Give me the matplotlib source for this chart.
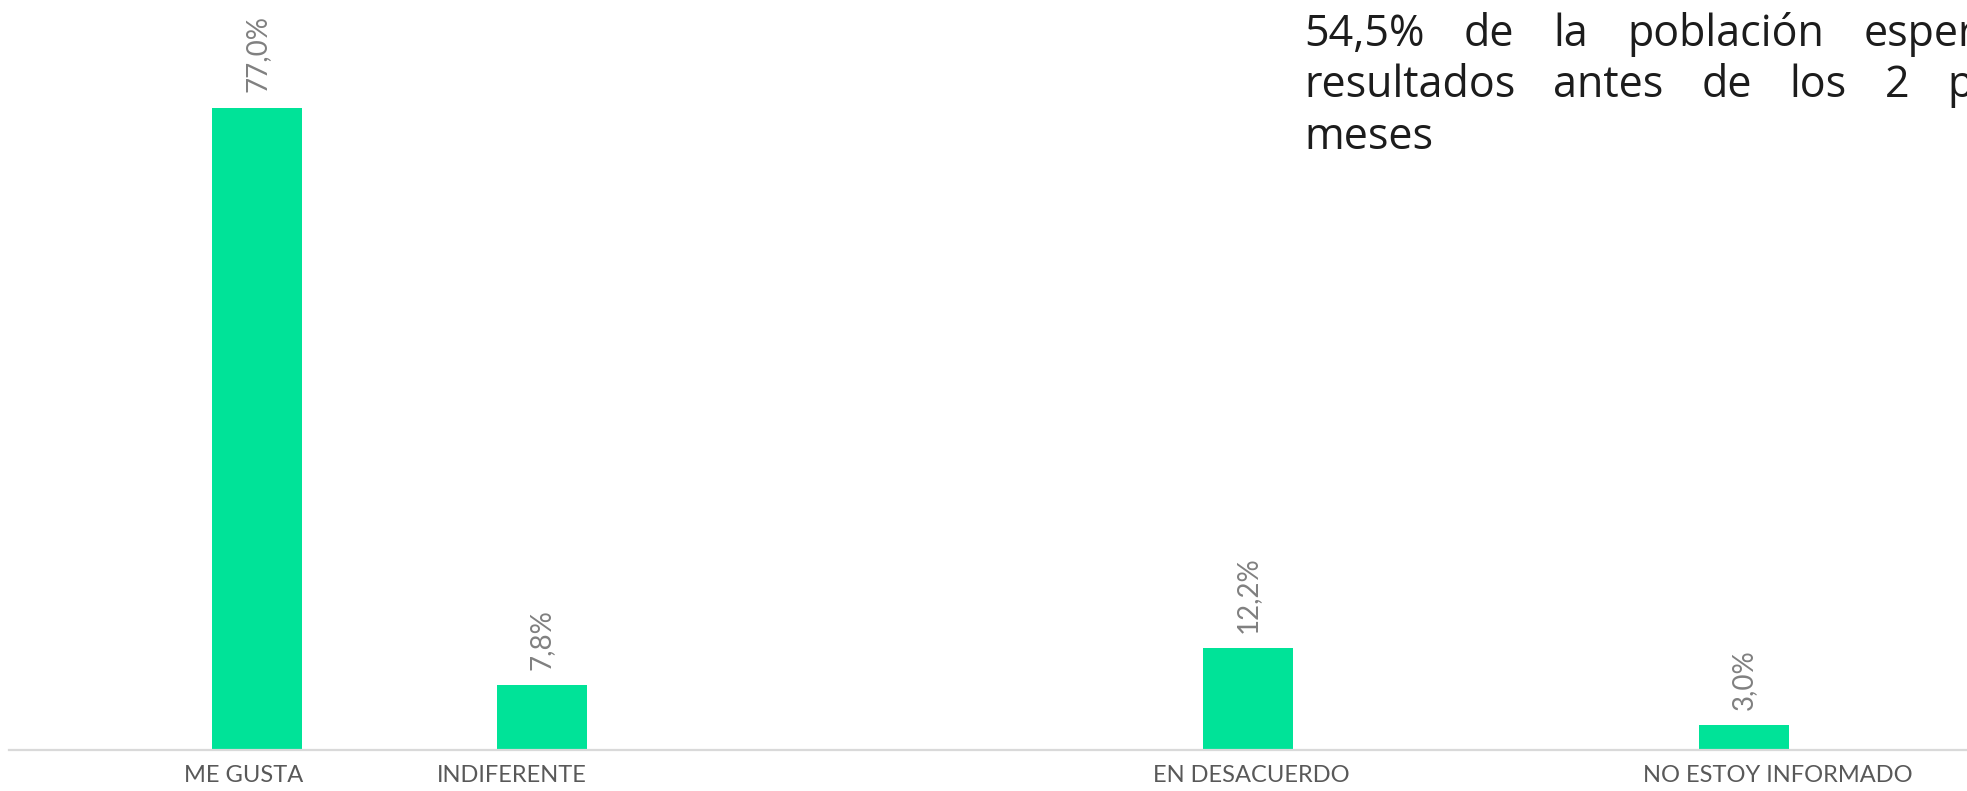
import matplotlib
matplotlib.use('Agg')
import matplotlib.pyplot as plt

# data
categories = ['ME GUSTA', 'INDIFERENTE', 'EN DESACUERDO', 'NO ESTOY INFORMADO']
values = [77.0, 7.8, 12.2, 3.0]
value_labels = ['77,0%', '7,8%', '12,2%', '3,0%']
note_lines = [['54,5%', 'de', 'la', 'población', 'espera'],
              ['resultados', 'antes', 'de', 'los', '2', 'primeros'],
              ['meses']]

# layout: bar / label centres as a fraction of the figure width
bar_x = [0.1307, 0.2755, 0.6345, 0.8866]
label_x = [0.124, 0.260, 0.636, 0.904]
bar_width = 0.0458

W, H = 1967, 791
fig = plt.figure(figsize=(W / 100, H / 100), dpi=100)
ax = fig.add_axes([0, 41 / H, 1, 0.949])
ax.set_xlim(0, 1)
ax.set_ylim(0, 90)

ax.bar(bar_x, values, width=bar_width, color='#00E398', zorder=2)
ax.axhline(0, xmin=9 / W, xmax=1, color='#d9d9d9', lw=1.6, zorder=3, clip_on=False)

for x, v, lbl in zip(bar_x, values, value_labels):
    ax.annotate(lbl, (x, v), xytext=(0, 11), textcoords='offset points',
                rotation=90, ha='center', va='bottom', color='#808080',
                fontsize=20, family='Lato')

ax.set_xticks(label_x, categories)
ax.tick_params(axis='x', length=0, pad=11, labelsize=17, labelcolor='#595959')
for t in ax.get_xticklabels():
    t.set_family('Lato')
ax.set_yticks([])
for s in ax.spines.values():
    s.set_visible(False)

# justified note in the top right; like the original it runs off the right
# edge: line 1 is cut inside "espera", line 2 just after the "p" of "primeros"
renderer = fig.canvas.get_renderer()
note_style = dict(va='baseline', ha='left', fontsize=31, family='Open Sans', color='#1c1c1c')


def text_width(s):
    t = fig.text(0, 0, s, **note_style)
    w = t.get_window_extent(renderer).width
    t.remove()
    return w


note_left = 1304
note_base = [46, 97, 149]
note_last_start = [W - text_width('espe') - 0.5 * (text_width('esper') - text_width('espe')),
                   W - 0.75 * text_width('p'),
                   None]
for words, base, last in zip(note_lines, note_base, note_last_start):
    texts = [fig.text(0, 1 - base / H, w, **note_style) for w in words]
    widths = [t.get_window_extent(renderer).width for t in texts]
    gap = 0 if last is None else (last - note_left - sum(widths[:-1])) / (len(words) - 1)
    x = note_left
    for t, w in zip(texts, widths):
        t.set_x(x / W)
        x += w + gap

fig.savefig('out.png', dpi=100)
